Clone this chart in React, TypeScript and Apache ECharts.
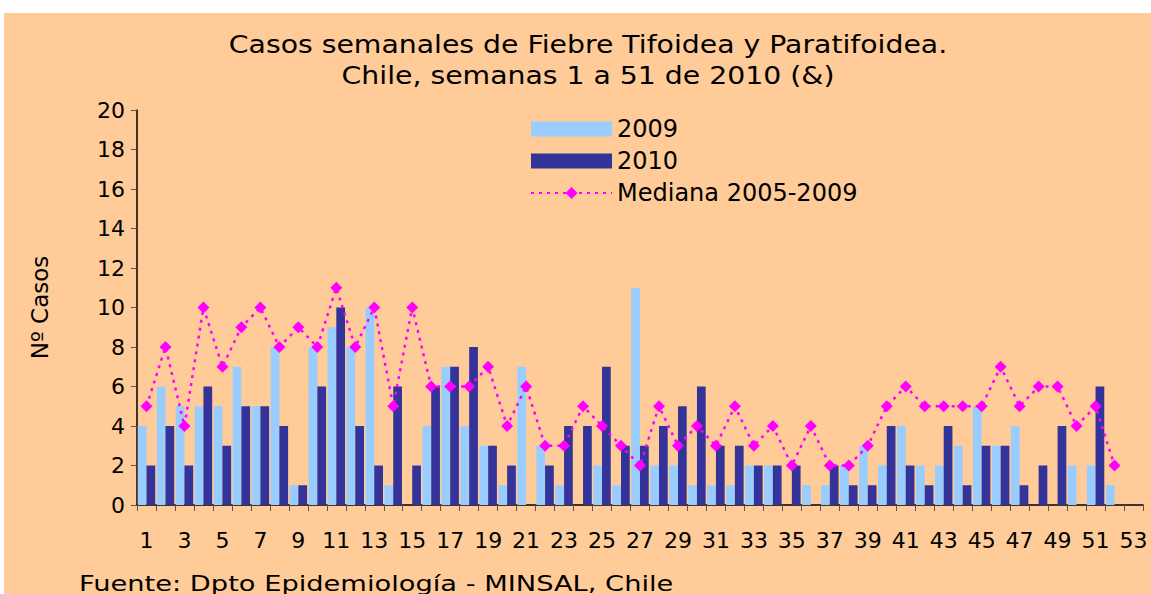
import React, { useEffect, useRef } from "react";
import * as echarts from "echarts";

const weeks: string[] = Array.from({ length: 53 }, (_, i) => String(i + 1));

const cases2009: (number | null)[] = [
  4, 6, 5, 5, 5, 7, 5, 8, 1, 8,
  9, 8, 10, 1, 0, 4, 7, 4, 3, 1,
  7, 3, 1, 0, 2, 1, 11, 2, 2, 1,
  1, 1, 2, 2, 0, 1, 1, 2, 3, 2,
  4, 2, 2, 3, 5, 3, 4, 0, 0, 2,
  2, 1, null,
];

const cases2010: (number | null)[] = [
  2, 4, 2, 6, 3, 5, 5, 4, 1, 6,
  10, 4, 2, 6, 2, 6, 7, 8, 3, 2,
  0, 2, 4, 4, 7, 3, 3, 4, 5, 6,
  3, 3, 2, 2, 2, 0, 2, 1, 1, 4,
  2, 1, 4, 1, 3, 3, 1, 2, 4, 0,
  6, 0, null,
];

const median: (number | null)[] = [
  5, 8, 4, 10, 7, 9, 10, 8, 9, 8,
  11, 8, 10, 5, 10, 6, 6, 6, 7, 4,
  6, 3, 3, 5, 4, 3, 2, 5, 3, 4,
  3, 5, 3, 4, 2, 4, 2, 2, 3, 5,
  6, 5, 5, 5, 5, 7, 5, 6, 6, 4,
  5, 2, null,
];

const FONT = "DejaVu Sans";

export default function App() {
  const ref = useRef<HTMLDivElement>(null);
  useEffect(() => {
    if (!ref.current) return;
    const chart = echarts.init(ref.current, undefined, { renderer: "svg" });
    chart.setOption({
      animation: false,
      backgroundColor: "#FFFFFF",
      textStyle: { fontFamily: FONT },
      graphic: [
        {
          type: "rect",
          z: -10,
          silent: true,
          shape: { x: 4, y: 13, width: 1147, height: 581 },
          style: { fill: "#FFCC99" },
        },
        {
          type: "text",
          x: 588,
          y: 45,
          scaleX: 1.18,
          style: {
            text: "Casos semanales de Fiebre Tifoidea y Paratifoidea.",
            font: `24px "${FONT}"`,
            fill: "#000",
            textAlign: "center",
            textVerticalAlign: "middle",
          },
        },
        {
          type: "text",
          x: 588,
          y: 76,
          scaleX: 1.18,
          style: {
            text: "Chile, semanas 1 a 51 de 2010 (&)",
            font: `24px "${FONT}"`,
            fill: "#000",
            textAlign: "center",
            textVerticalAlign: "middle",
          },
        },
        {
          type: "text",
          x: 79,
          y: 583,
          scaleX: 1.24,
          style: {
            text: "Fuente: Dpto Epidemiología - MINSAL, Chile",
            font: `22px "${FONT}"`,
            fill: "#000",
            textAlign: "left",
            textVerticalAlign: "middle",
          },
        },
      ],
      legend: {
        orient: "vertical",
        left: 525,
        top: 112,
        itemWidth: 81,
        itemHeight: 15,
        itemGap: 8,
        textStyle: { fontFamily: FONT, fontSize: 24, color: "#000" },
        data: [
          { name: "2009", icon: "rect" },
          { name: "2010", icon: "rect" },
          { name: "Mediana 2005-2009" },
        ],
      },
      grid: { left: 137, right: 8, top: 110, bottom: 89, containLabel: false },
      xAxis: {
        type: "category",
        data: weeks,
        boundaryGap: true,
        axisLine: { lineStyle: { color: "#000", width: 1.5 } },
        axisTick: { show: true, interval: 0, length: 6, lineStyle: { color: "#555" } },
        axisLabel: {
          interval: 1,
          fontFamily: FONT,
          fontSize: 22,
          color: "#000",
          margin: 24,
        },
      },
      yAxis: {
        type: "value",
        min: 0,
        max: 20,
        interval: 2,
        name: "Nº Casos",
        nameLocation: "middle",
        nameRotate: 90,
        nameGap: 86,
        nameTextStyle: { fontFamily: FONT, fontSize: 23, color: "#000" },
        axisLine: { show: true, lineStyle: { color: "#000", width: 1.5 } },
        axisTick: { show: true, length: 6, inside: false, lineStyle: { color: "#555" } },
        splitLine: { show: false },
        axisLabel: { fontFamily: FONT, fontSize: 22, color: "#000", margin: 12 },
      },
      series: [
        {
          name: "2009",
          type: "bar",
          data: cases2009,
          barGap: "0%",
          barCategoryGap: "8%",
          itemStyle: { color: "#99CCFF" },
        },
        {
          name: "2010",
          type: "bar",
          data: cases2010,
          barGap: "0%",
          barCategoryGap: "8%",
          itemStyle: { color: "#333399" },
        },
        {
          name: "Mediana 2005-2009",
          type: "line",
          data: median,
          symbol: "diamond",
          symbolSize: 12,
          z: 5,
          lineStyle: { color: "#FF00FF", width: 2.5, type: [3, 5] },
          itemStyle: { color: "#FF00FF" },
        },
      ],
    });
    return () => chart.dispose();
  }, []);
  return (
    <div
      ref={ref}
      style={{ position: "fixed", left: 0, top: 0, width: 1151, height: 594 }}
    />
  );
}
